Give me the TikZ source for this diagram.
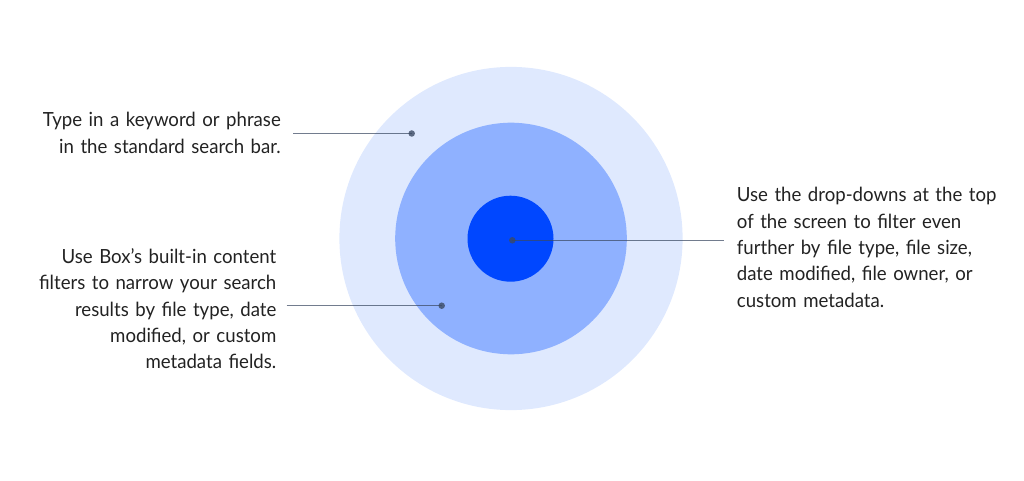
\documentclass[tikz,border=0pt]{standalone}
\usepackage{fontspec}
\setmainfont[FakeStretch=0.955]{Lato}
\definecolor{ringout}{HTML}{DFE9FE}
\definecolor{ringmid}{HTML}{8FB1FF}
\definecolor{ringin}{HTML}{0047FF}
\definecolor{leadc}{HTML}{3B4A63}
\definecolor{txtc}{HTML}{222222}
\tikzset{
  lbl/.style={inner sep=0pt, text=txtc, font=\fontsize{19.5}{26.4}\selectfont, text width=300pt},
  leader/.style={draw=leadc, opacity=0.72, line width=1.4pt},
  dotm/.style={circle, fill=leadc, opacity=0.8, inner sep=0pt, minimum size=6.5pt},
}
\begin{document}
\begin{tikzpicture}[x=1pt,y=-1pt]
\useasboundingbox (0,0) rectangle (1024,481);
\fill[ringout] (511,238.5) circle[radius=171.6];
\fill[ringmid] (511,238.5) circle[radius=115.8];
\fill[ringin] (510.5,238.7) circle[radius=43];
\node[dotm] (d1) at (411.7,133.5) {};
\node[dotm] (d2) at (441.7,305.7) {};
\node[dotm] (d3) at (512.3,240.3) {};
\node[lbl, align=right, anchor=base east] (t1) at (281,126.7) {Type in a keyword or phrase\\in the standard search bar.};
\node[lbl, align=right, anchor=base east] (t2) at (276.5,263.3) {Use Box’s built-in content\\filters to narrow your search\\results by file type, date\\modified, or custom\\metadata fields.};
\node[lbl, align=left, anchor=base west] (t3) at (736.7,201.7) {Use the drop-downs at the top\\of the screen to filter even\\further by file type, file size,\\date modified, file owner, or\\custom metadata.};
\draw[leader] ([xshift=12pt]t1.east |- d1) -- (d1.center);
\draw[leader] ([xshift=10pt]t2.east |- d2) -- (d2.center);
\draw[leader] (d3.center) -- ([xshift=-13pt]t3.west |- d3);
\end{tikzpicture}
\end{document}
